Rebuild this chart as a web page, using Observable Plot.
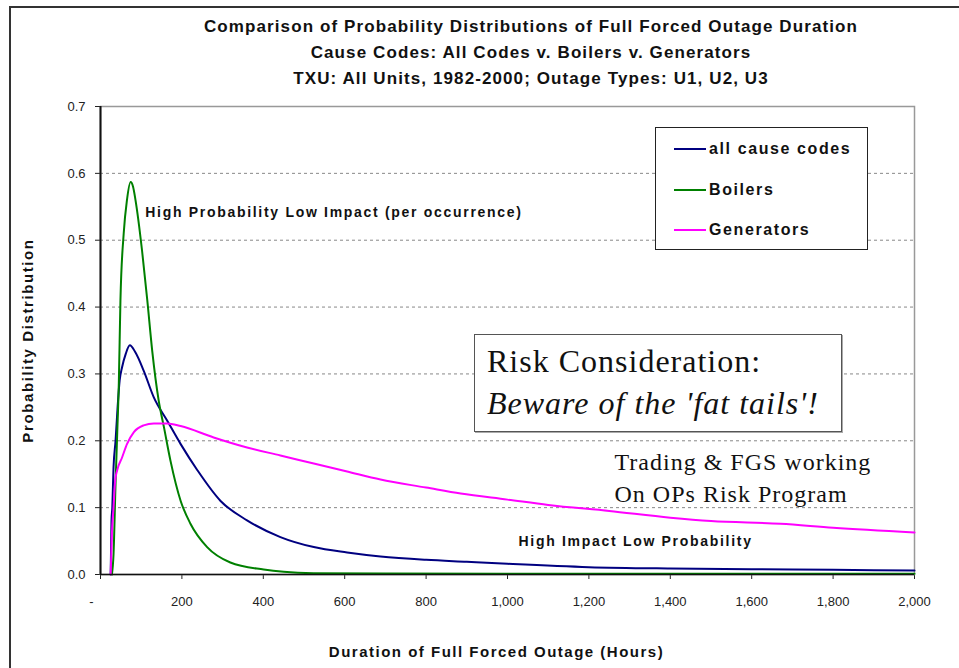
<!DOCTYPE html>
<html>
<head>
<meta charset="utf-8">
<script src="https://cdn.jsdelivr.net/npm/d3@7"></script>
<script src="https://cdn.jsdelivr.net/npm/@observablehq/plot@0.6"></script>
<style>
  body { margin: 0; background: #fff; font-family: "Liberation Sans", Arial, sans-serif; }
  #wrap { position: relative; width: 959px; height: 668px; overflow: hidden; background: #fff; }
  #chart { position: absolute; left: 0; top: 90px; }
  #title { position: absolute; left: 100px; top: 14px; width: 862px; text-align: center;
           font-weight: bold; font-size: 17px; letter-spacing: 1.1px; line-height: 26px; color: #111; }
  #legend { position: absolute; left: 655px; top: 127px; width: 213px; height: 123px;
            border: 1.5px solid #222; background: #fff; box-sizing: border-box; }
  .lg { position: absolute; left: 18px; height: 20px; display: flex; align-items: center;
        font-weight: bold; font-size: 16px; letter-spacing: 1.6px; color: #111; white-space: nowrap; }
  .lg span.sw { display: inline-block; width: 32px; height: 2.5px; margin-right: 3px; }
  #risk { position: absolute; left: 474px; top: 334px; width: 368px; height: 98px;
          border: 1px solid #555; background: #fff; box-sizing: border-box;
          box-shadow: 1px 1px 0 #aaa;
          font-family: "Liberation Serif", "Times New Roman", serif; font-size: 32px; letter-spacing: 1px;
          line-height: 1; color: #111; }
  #risk div { position: absolute; left: 12px; white-space: nowrap; }
  #border { position: absolute; left: 9px; top: 6px; width: 1000px; height: 720px;
            border: 2px solid #333; box-sizing: border-box; pointer-events: none; }
</style>
</head>
<body>
<div id="wrap">
  <div id="chart"></div>
  <div id="title"></div>
  <div id="legend"></div>
  <div id="risk"></div>
  <div id="border"></div>
</div>
<script>
// ---- data ----
const titleLines = [
  "Comparison of Probability Distributions of Full Forced Outage Duration",
  "Cause Codes: All Codes v. Boilers v. Generators",
  "TXU:  All Units, 1982-2000; Outage Types:  U1, U2, U3"
];
const yAxisLabel = "Probability Distribution";
const xAxisLabel = "Duration of Full Forced Outage (Hours)";

const xTicks = [0, 200, 400, 600, 800, 1000, 1200, 1400, 1600, 1800, 2000];
const yTicks = [0, 0.1, 0.2, 0.3, 0.4, 0.5, 0.6, 0.7];
const gridTicks = [0.1, 0.2, 0.3, 0.4, 0.5, 0.6];

const seriesNames = ["all cause codes", "Boilers", "Generators"];
const seriesColors = ["#000080", "#008000", "#ff00ff"];

const allHours  = [25, 27, 29, 32, 37, 42, 47, 53, 62, 72, 86, 106, 131, 164, 197, 238, 295, 360, 442, 524, 606, 688, 800, 900, 1000, 1200, 1400, 1600, 1800, 2000];
const allValues = [0, 0.08, 0.1, 0.16, 0.2, 0.25, 0.29, 0.31, 0.33, 0.343, 0.332, 0.305, 0.265, 0.23, 0.195, 0.156, 0.11, 0.081, 0.056, 0.041, 0.033, 0.027, 0.022, 0.019, 0.016, 0.011, 0.009, 0.008, 0.007, 0.006];

const boilHours  = [28, 32, 37, 41, 45, 49, 57, 65, 74, 80, 86, 102, 115, 127, 143, 156, 172, 197, 221, 262, 319, 401, 450, 524, 700, 1000, 1500, 2000];
const boilValues = [0, 0.03, 0.136, 0.21, 0.286, 0.41, 0.51, 0.56, 0.587, 0.58, 0.56, 0.485, 0.41, 0.335, 0.26, 0.22, 0.17, 0.11, 0.076, 0.041, 0.018, 0.0075, 0.004, 0.002, 0.0015, 0.001, 0.001, 0.001];

const genHours  = [25, 28, 32, 36, 41, 53, 65, 82, 106, 131, 164, 197, 278, 360, 442, 524, 606, 688, 800, 885, 1000, 1100, 1250, 1400, 1500, 1671, 1800, 2000];
const genValues = [0, 0.06, 0.1, 0.14, 0.156, 0.175, 0.195, 0.213, 0.223, 0.226, 0.226, 0.222, 0.205, 0.19, 0.178, 0.166, 0.154, 0.142, 0.13, 0.121, 0.112, 0.104, 0.095, 0.085, 0.08, 0.076, 0.07, 0.063];

const annotTexts = ["High Probability Low Impact (per occurrence)", "High Impact Low Probability"];
const annotX = [110, 1027];
const annotY = [0.541, 0.049];

const riskLines = ["Risk Consideration:", "Beware of the 'fat tails'!"];
const noteLines = ["Trading & FGS working", "On OPs Risk Program"];
const noteX = [1263, 1263];
const noteY = [0.168, 0.12];

// ---- build tables ----
const rows = [];
[[allHours, allValues], [boilHours, boilValues], [genHours, genValues]].forEach(([hs, vs], i) => {
  hs.forEach((h, j) => rows.push({series: seriesNames[i], hours: h, value: vs[j]}));
});
const annots = annotTexts.map((t, i) => ({text: t, x: annotX[i], y: annotY[i]}));
const notes = noteLines.map((t, i) => ({text: t, x: noteX[i], y: noteY[i]}));

const font = "Liberation Sans, Arial, sans-serif";

const chart = Plot.plot({
  width: 959,
  height: 578,
  marginTop: 16,
  marginBottom: 94,
  marginLeft: 100,
  marginRight: 45,
  style: {background: "transparent", fontFamily: font, fontSize: "13px", color: "#222", overflow: "visible"},
  x: {domain: [0, 2000], ticks: xTicks, tickFormat: d => d === 0 ? "-" : d3.format(",")(d), tickSize: 5, tickPadding: 17, label: null},
  y: {domain: [0, 0.7], ticks: yTicks, tickFormat: d3.format(".1f"), tickSize: 5, tickPadding: 10, label: null},
  color: {domain: seriesNames, range: seriesColors},
  marks: [
    Plot.ruleY(gridTicks, {stroke: "#888", strokeDasharray: "3,3"}),
    Plot.frame({stroke: "#999", strokeWidth: 1.5}),
    Plot.line(rows, {x: "hours", y: "value", z: "series", stroke: "series", strokeWidth: 2, curve: "monotone-x"}),
    Plot.ruleX([0], {stroke: "#111", strokeWidth: 2}),
    Plot.ruleY([0], {stroke: "#111", strokeWidth: 1.5}),
    Plot.text(annots, {x: "x", y: "y", text: "text", textAnchor: "start", fontWeight: "bold", fontSize: 14, fill: "#111"}),
    Plot.text(notes, {x: "x", y: "y", text: "text", textAnchor: "start", fontFamily: "Liberation Serif, Times New Roman, serif",
                      fontSize: 24, fill: "#111"}),
    Plot.text([yAxisLabel], {text: d => d, frameAnchor: "left", textAnchor: "middle", dx: -72, rotate: -90, fontWeight: "bold", fontSize: 15, fill: "#111"}),
    Plot.text([xAxisLabel], {text: d => d, frameAnchor: "bottom", textAnchor: "middle", dx: -11, dy: 82, fontWeight: "bold", fontSize: 15, fill: "#111"})
  ]
});
document.getElementById("chart").appendChild(chart);

// letter spacing for some SVG texts (to mimic the reference's wide spacing)
chart.querySelectorAll("text").forEach(t => {
  const s = t.textContent;
  if (annotTexts.includes(s)) t.setAttribute("letter-spacing", "1.7");
  else if (s === yAxisLabel) t.setAttribute("letter-spacing", "1.6");
  else if (s === xAxisLabel) t.setAttribute("letter-spacing", "1.5");
  else if (noteLines.includes(s)) t.setAttribute("letter-spacing", "1");
  else if (s === "-") t.setAttribute("dx", "-9");
});

// title
document.getElementById("title").innerHTML = titleLines.map(t => `<div>${t}</div>`).join("");

// legend
const lg = document.getElementById("legend");
const lgTops = [11, 52, 92];
seriesNames.forEach((n, i) => {
  const d = document.createElement("div");
  d.className = "lg";
  d.style.top = lgTops[i] + "px";
  d.innerHTML = `<span class="sw" style="background:${seriesColors[i]}"></span>${n}`;
  lg.appendChild(d);
});

// risk box
const rk = document.getElementById("risk");
rk.innerHTML = `<div style="top:10px">${riskLines[0]}</div><div style="top:52px;font-style:italic">${riskLines[1]}</div>`;
</script>
</body>
</html>
